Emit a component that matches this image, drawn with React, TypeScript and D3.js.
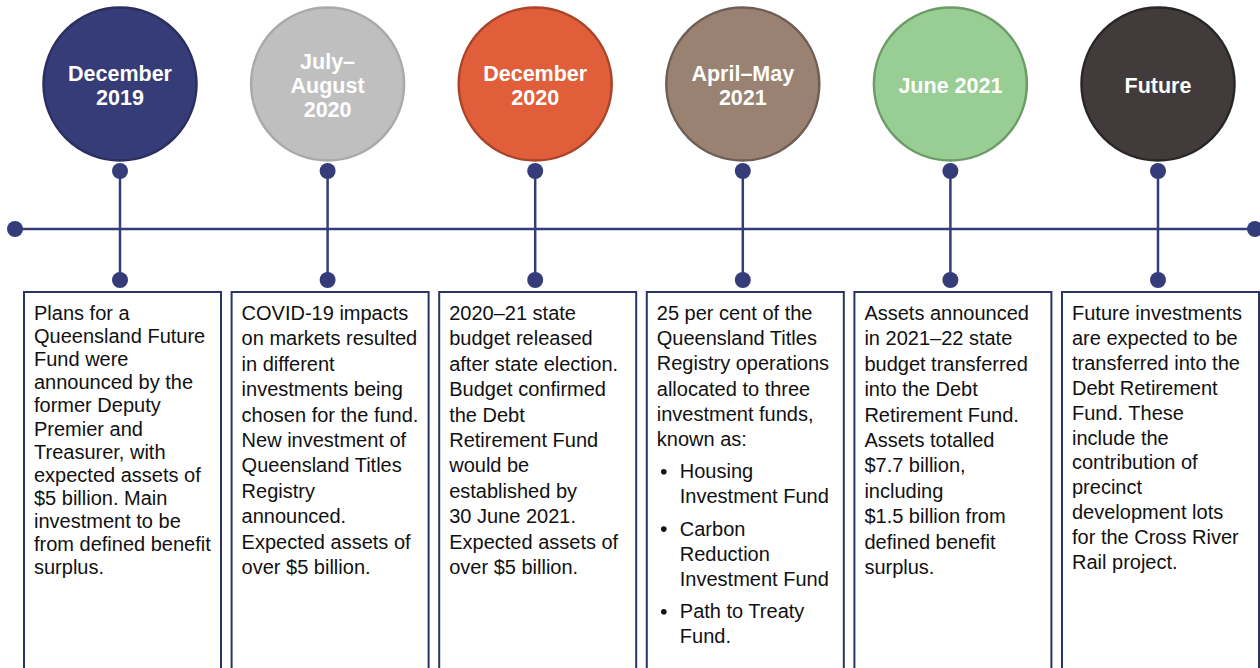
import * as d3 from "d3";

const W = 1260, H = 668;

// timeline milestones
const periods = ["December 2019", "July–August 2020", "December 2020", "April–May 2021", "June 2021", "Future"];
const periodLines = [
  ["December", "2019"],
  ["July–", "August", "2020"],
  ["December", "2020"],
  ["April–May", "2021"],
  ["June 2021"],
  ["Future"],
];
const circleFills = ["#363C77", "#BFBFBF", "#E05F3A", "#9A8273", "#98CD93", "#413B3B"];
const circleStrokes = ["#2A2F60", "#A9A9A9", "#A9442A", "#6F5E53", "#6C9B67", "#2A2626"];

// description texts; "* " starts a bullet, "  " continues one
const descriptions = [
  ["Plans for a", "Queensland Future", "Fund were", "announced by the", "former Deputy", "Premier and", "Treasurer, with", "expected assets of", "$5 billion. Main", "investment to be", "from defined benefit", "surplus."],
  ["COVID-19 impacts", "on markets resulted", "in different", "investments being", "chosen for the fund.", "New investment of", "Queensland Titles", "Registry", "announced.", "Expected assets of", "over $5 billion."],
  ["2020–21 state", "budget released", "after state election.", "Budget confirmed", "the Debt", "Retirement Fund", "would be", "established by", "30 June 2021.", "Expected assets of", "over $5 billion."],
  ["25 per cent of the", "Queensland Titles", "Registry operations", "allocated to three", "investment funds,", "known as:", "* Housing", "  Investment Fund", "* Carbon", "  Reduction", "  Investment Fund", "* Path to Treaty", "  Fund."],
  ["Assets announced", "in 2021–22 state", "budget transferred", "into the Debt", "Retirement Fund.", "Assets totalled", "$7.7 billion,", "including", "$1.5 billion from", "defined benefit", "surplus."],
  ["Future investments", "are expected to be", "transferred into the", "Debt Retirement", "Fund. These", "include the", "contribution of", "precinct", "development lots", "for the Cross River", "Rail project."],
];
const lineHeights = [23.1, 25.4, 25.4, 25.2, 25.4, 24.9];

const NAVY = "#343D79";
const FONT = "Arial, 'Liberation Sans', Helvetica, sans-serif";

const x = d3.scalePoint<string>().domain(periods).range([120, 1158]);

const circleY = 84, circleR = 76.5;
const dotTop = 171, axisY = 229, dotBottom = 280;
const boxTop = 292, boxW = 197;

function layoutLines(lines: string[], lh: number) {
  let y = 320;
  return lines.map((s, i) => {
    const bullet = s.startsWith("* ");
    const cont = s.startsWith("  ");
    if (i > 0) y += lh + (bullet ? 7 : 0);
    return { text: bullet || cont ? s.slice(2) : s, bullet, indent: bullet || cont, y };
  });
}

export default function App() {
  return (
    <svg width={W} height={H} style={{ position: "absolute", left: 0, top: 0, background: "#fff" }} fontFamily={FONT}>
      {/* main axis */}
      <line x1={15} x2={1255} y1={axisY} y2={axisY} stroke={NAVY} strokeWidth={2.5} />
      <circle cx={15} cy={axisY} r={8} fill={NAVY} />
      <circle cx={1255} cy={axisY} r={8} fill={NAVY} />

      {periods.map((p, i) => {
        const cx = x(p)!;
        const lines = periodLines[i];
        const lh = 24;
        const y0 = circleY + 1 - ((lines.length - 1) * lh) / 2 + 7.5;
        const bx = cx - 96;
        const rows = layoutLines(descriptions[i], lineHeights[i]);
        return (
          <g key={p}>
            <line x1={cx} x2={cx} y1={dotTop} y2={dotBottom} stroke={NAVY} strokeWidth={2.5} />
            <circle cx={cx} cy={dotTop} r={8} fill={NAVY} />
            <circle cx={cx} cy={dotBottom} r={8} fill={NAVY} />
            <circle cx={cx} cy={circleY} r={circleR} fill={circleFills[i]} stroke={circleStrokes[i]} strokeWidth={2.5} />
            <text textAnchor="middle" fill="#fff" fontWeight="bold" fontSize={21.5}>
              {lines.map((l, j) => (
                <tspan key={j} x={cx} y={y0 + j * lh}>{l}</tspan>
              ))}
            </text>
            <rect x={bx} y={boxTop} width={boxW} height={H + 20 - boxTop} fill="#fff" stroke="#2B3468" strokeWidth={2} />
            {rows.map((r, j) => (
              <g key={j}>
                {r.bullet && <circle cx={bx + 17} cy={r.y - 6.5} r={2.8} fill="#111" />}
                <text x={bx + 10 + (r.indent ? 23 : 0)} y={r.y} fontSize={20} fill="#111">{r.text}</text>
              </g>
            ))}
          </g>
        );
      })}
    </svg>
  );
}
